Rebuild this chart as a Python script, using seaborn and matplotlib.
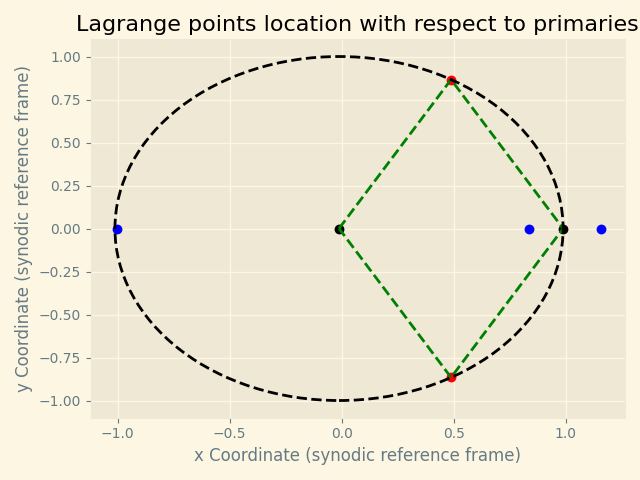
import numpy as np
import pandas as pd
import matplotlib
matplotlib.use("Agg")
import matplotlib.pyplot as plt
from matplotlib.patches import Circle
import seaborn as sns

# Earth-Moon mass ratio and Lagrange point positions (synodic frame)
mu = 0.01215
primaries_x = [-mu, 1 - mu]
primaries_y = [0.0, 0.0]
collinear_x = [0.8369, 1.1557, -1.0051]   # L1, L2, L3
collinear_y = [0.0, 0.0, 0.0]
triangular_x = [0.5 - mu, 0.5 - mu]      # L4, L5
triangular_y = [0.8660, -0.8660]

# triangle L4 / L5 with the primaries
diamond_x = [-mu, 0.5 - mu, 1 - mu, 0.5 - mu, -mu]
diamond_y = [0.0, 0.8660, 0.0, -0.8660, 0.0]

plt.style.use("Solarize_Light2")
fig, ax = plt.subplots(figsize=(6.4, 4.8), dpi=100)

sns.scatterplot(x=collinear_x, y=collinear_y, color="blue", s=50, linewidth=0, ax=ax, zorder=2)
sns.scatterplot(x=triangular_x, y=triangular_y, color="red", s=50, linewidth=0, ax=ax, zorder=2)
sns.scatterplot(x=primaries_x, y=primaries_y, color="black", s=50, linewidth=0, ax=ax, zorder=2)

df_d = pd.DataFrame({"x": diamond_x, "y": diamond_y})
sns.lineplot(data=df_d, x="x", y="y", sort=False, estimator=None, color="green",
             linestyle="--", linewidth=2, ax=ax, zorder=3)

orbit = Circle((primaries_x[0], primaries_y[0]), 1.0, fill=False, edgecolor="black",
               linestyle="--", linewidth=2, zorder=4)
ax.add_patch(orbit)
ax.autoscale_view()

ax.set_title("Lagrange points location with respect to primaries", fontsize=16)
ax.set_xlabel("x Coordinate (synodic reference frame)")
ax.set_ylabel("y Coordinate (synodic reference frame)")
plt.tight_layout()
plt.savefig("out.png")
plt.close()
